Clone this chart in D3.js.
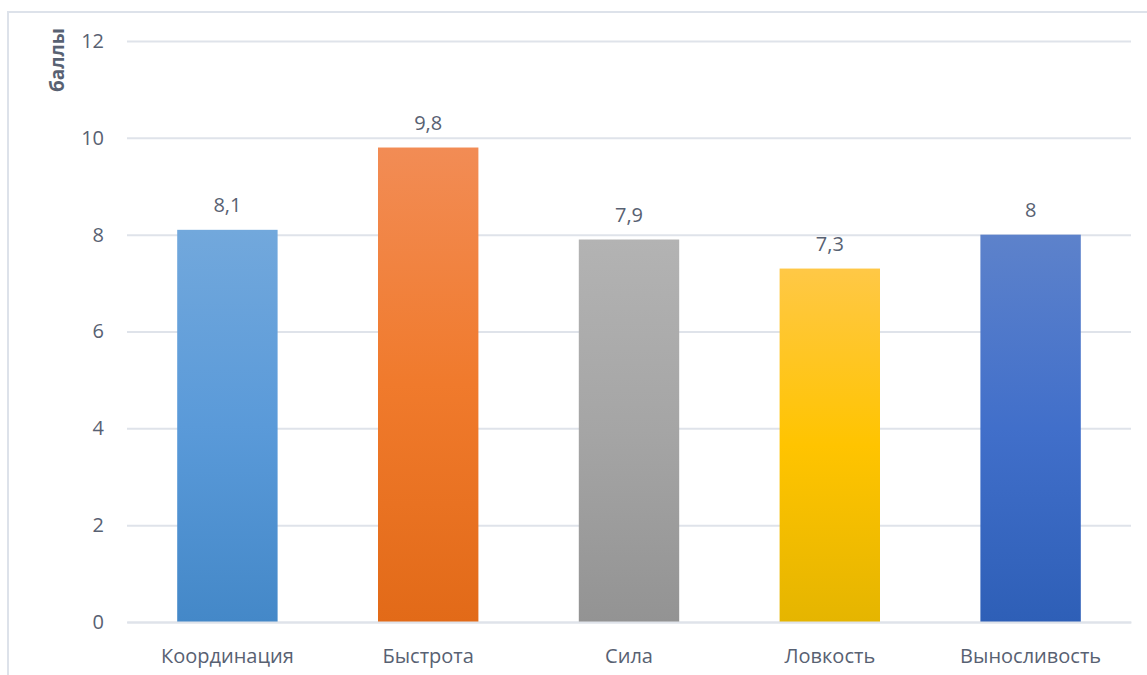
<!DOCTYPE html>
<html><head><meta charset="utf-8">
<script src="https://cdn.jsdelivr.net/npm/d3@7"></script>
<style>body{margin:0;background:#fff;}svg{display:block;font-family:"Open Sans","Noto Sans",sans-serif;}</style>
</head><body>
<svg id="c" width="1147" height="675"></svg>
<script>
const categories = ["Координация","Быстрота","Сила","Ловкость","Выносливость"];
const values = [8.1, 9.8, 7.9, 7.3, 8];
const valueLabels = ["8,1","9,8","7,9","7,3","8"];
const yTicks = [0,2,4,6,8,10,12];
const yTitle = "баллы";
const gradients = [
  ["#72a8dc","#5a9ad9","#4488c8"],
  ["#f28c55","#f07a2c","#e26a18"],
  ["#b3b3b3","#a5a5a5","#939393"],
  ["#ffc846","#ffc400","#e5b500"],
  ["#5d82cb","#416fca","#2e5fb7"]
];

const svg = d3.select("#c");
const W = 1147, H = 675;
const m = {left:127, right:W-1131, top:41, bottom:H-622};
const textCol = "#586172";
const FF = "'Open Sans','Noto Sans',sans-serif";

// frame
svg.append("path").attr("d",`M8,${H} L8,12 L${W},12`).attr("fill","none").attr("stroke","#dde2ea").attr("stroke-width",2);

const x = d3.scaleBand().domain(categories).range([m.left, W-m.right]).paddingInner(0.5).paddingOuter(0.25);
const y = d3.scaleLinear().domain([0,12]).range([H-m.bottom, m.top]);

const defs = svg.append("defs");
gradients.forEach((g,i)=>{
  const lg = defs.append("linearGradient").attr("id","g"+i).attr("x1",0).attr("y1",0).attr("x2",0).attr("y2",1);
  lg.append("stop").attr("offset","0%").attr("stop-color",g[0]);
  lg.append("stop").attr("offset","50%").attr("stop-color",g[1]);
  lg.append("stop").attr("offset","100%").attr("stop-color",g[2]);
});

// grid
const yAxis = d3.axisLeft(y).tickValues(yTicks).tickSize(-(W-m.right-m.left)).tickPadding(23).tickFormat(d=>d);
const ga = svg.append("g").attr("transform",`translate(${m.left},0)`).call(yAxis);
ga.select(".domain").remove();
ga.selectAll(".tick line").attr("stroke","#dfe3ea").attr("stroke-width",2);
ga.selectAll(".tick text").attr("fill",textCol).attr("font-size",20).attr("font-family",FF);

// bars
svg.append("g").selectAll("rect").data(values).join("rect")
  .attr("x",(d,i)=>x(categories[i]))
  .attr("width",x.bandwidth())
  .attr("y",d=>y(d))
  .attr("height",d=>y(0)-y(d))
  .attr("fill",(d,i)=>`url(#g${i})`);

// value labels
svg.append("g").selectAll("text").data(values).join("text")
  .attr("x",(d,i)=>x(categories[i])+x.bandwidth()/2)
  .attr("y",d=>y(d)-18)
  .attr("text-anchor","middle")
  .attr("fill",textCol).attr("font-size",20).attr("font-family",FF)
  .text((d,i)=>valueLabels[i]);

// x axis
const xAxis = d3.axisBottom(x).tickSize(0).tickPadding(27);
const gx = svg.append("g").attr("transform",`translate(0,${y(0)})`).call(xAxis);
gx.select(".domain").attr("stroke","#dfe3ea").attr("stroke-width",2);
gx.selectAll(".tick text").attr("fill",textCol).attr("font-size",20).attr("font-family",FF);

// y title
svg.append("text").attr("transform","translate(64,60) rotate(-90)")
  .attr("text-anchor","middle").attr("fill",textCol).attr("font-size",19).attr("font-weight","bold").attr("font-family",FF)
  .text(yTitle);
</script>
</body></html>
